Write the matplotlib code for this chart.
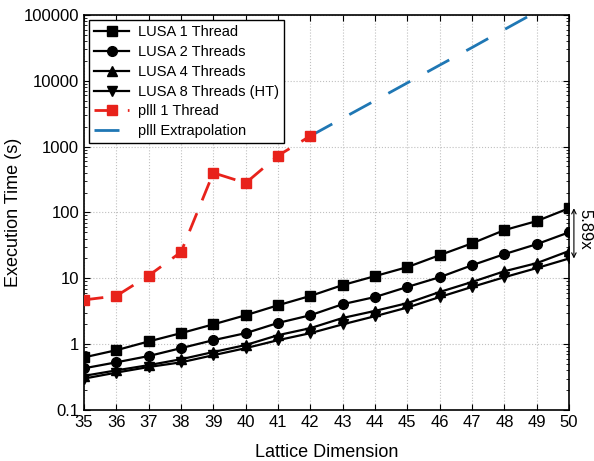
import numpy as np
import matplotlib
matplotlib.use("Agg")
import matplotlib.pyplot as plt
from matplotlib.ticker import LogLocator, NullFormatter

plt.rcParams['font.family'] = ['Liberation Sans', 'DejaVu Sans']

dims = list(range(35, 51))
lusa1 = [0.63, 0.81, 1.1, 1.47, 2.0, 2.75, 3.9, 5.4, 7.9, 10.8, 14.8, 22.5, 34, 54, 74, 116]
lusa2 = [0.43, 0.53, 0.66, 0.87, 1.15, 1.47, 2.1, 2.75, 4.05, 5.2, 7.4, 10.4, 15.8, 23.3, 33, 50]
lusa4 = [0.33, 0.40, 0.48, 0.59, 0.76, 0.97, 1.37, 1.75, 2.5, 3.2, 4.2, 6.2, 8.8, 12.8, 17, 26]
lusa8 = [0.30, 0.37, 0.45, 0.53, 0.68, 0.87, 1.15, 1.47, 2.0, 2.66, 3.6, 5.2, 7.4, 10.4, 14.3, 20]
plll_dims = [35, 36, 37, 38, 39, 40, 41, 42]
plll1 = [4.7, 5.4, 11, 25, 400, 280, 730, 1450]
extrap_dims = [42, 43, 44, 45, 46, 47, 48, 49]
extrap = [1450, 2700, 5000, 9300, 17300, 32000, 60000, 112000]
speedup_label = "5.89x"

fig = plt.figure(figsize=(5.94, 4.61), dpi=100)
ax = fig.add_axes([0.1414, 0.1106, 0.8166, 0.857])

lw = 1.6
ax.plot(dims, lusa1, color='black', lw=lw, marker='s', ms=7, label='LUSA 1 Thread', zorder=5)
ax.plot(dims, lusa2, color='black', lw=lw, marker='o', ms=7, label='LUSA 2 Threads', zorder=5)
ax.plot(dims, lusa4, color='black', lw=lw, marker='^', ms=7, label='LUSA 4 Threads', zorder=5)
ax.plot(dims, lusa8, color='black', lw=lw, marker='v', ms=7, label='LUSA 8 Threads (HT)', zorder=5)
ax.plot(plll_dims, plll1, color='#e8221b', lw=2, ls=(0, (7, 5)), marker='s', ms=7.5,
        label='plll 1 Thread', zorder=4)
ax.plot(extrap_dims, extrap, color='#1f77b4', lw=2, ls=(0, (9, 7)),
        label='plll Extrapolation', zorder=3)

ax.set_yscale('log')
ax.set_ylim(0.1, 100000)
ax.set_xlim(35, 50)
ax.set_xticks(dims)
ax.set_yticks([0.1, 1, 10, 100, 1000, 10000, 100000])
ax.set_yticklabels(['0.1', '1', '10', '100', '1000', '10000', '100000'])
ax.yaxis.set_minor_locator(LogLocator(base=10, subs=(2, 3, 4, 5, 6, 7, 8, 9), numticks=20))
ax.yaxis.set_minor_formatter(NullFormatter())
ax.tick_params(which='both', direction='in', top=True, right=True, labelsize=12)
ax.tick_params(which='major', length=4)
ax.tick_params(which='minor', length=2.5)
ax.grid(True, which='major', ls=':', color='#c0c0c0', lw=0.8)
for s in ax.spines.values():
    s.set_linewidth(1.2)

ax.set_xlabel('Lattice Dimension', fontsize=13, labelpad=10)
ax.set_ylabel('Execution Time (s)', fontsize=13, labelpad=1)

leg = ax.legend(loc='upper left', fontsize=10.5, fancybox=False, edgecolor='black',
                framealpha=1, borderaxespad=0.35, handlelength=2.4, labelspacing=0.4,
                handletextpad=0.6, borderpad=0.35)
leg.get_frame().set_linewidth(1.0)

ax.annotate('', xy=(50.15, lusa1[-1]), xytext=(50.15, lusa8[-1]),
            arrowprops=dict(arrowstyle='<->', color='black', lw=0.8,
                            mutation_scale=8, shrinkA=0, shrinkB=0),
            annotation_clip=False)
ax.text(50.5, np.sqrt(lusa1[-1] * lusa8[-1]) * 1.15, speedup_label, rotation=-90,
        va='center', ha='center', fontsize=12, clip_on=False)

fig.savefig('out.png', dpi=100)
